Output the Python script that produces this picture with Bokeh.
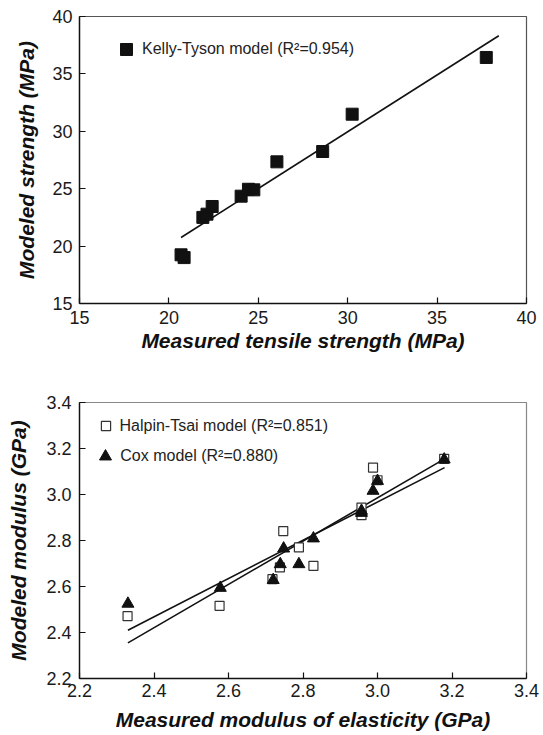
from bokeh.plotting import figure
from bokeh.models import Range1d, FixedTicker, NumeralTickFormatter, Legend, LegendItem
from bokeh.layouts import column
from bokeh.embed import file_html
from bokeh.resources import INLINE

# ---------------- data: top chart ----------------
kt_measured = [20.68, 20.85, 21.90, 22.13, 22.42, 24.04, 24.45, 24.75, 26.04, 28.60, 30.25, 37.75]
kt_modeled = [19.24, 19.00, 22.50, 22.78, 23.45, 24.35, 24.95, 24.90, 27.34, 28.24, 31.49, 36.43]
kt_fit_x = [20.68, 38.45]
kt_fit_y = [20.75, 38.32]
top_ticks = [15, 20, 25, 30, 35, 40]
kt_label = "Kelly-Tyson model (R²=0.954)"

# ---------------- data: bottom chart ----------------
ht_measured = [2.329, 2.576, 2.718, 2.738, 2.747, 2.789, 2.828, 2.957, 2.957, 2.988, 3.000, 3.179]
ht_modeled = [2.471, 2.516, 2.632, 2.683, 2.841, 2.770, 2.690, 2.910, 2.943, 3.117, 3.062, 3.155]
cox_measured = [2.330, 2.578, 2.720, 2.739, 2.748, 2.789, 2.828, 2.957, 2.957, 2.988, 3.000, 3.179]
cox_modeled = [2.525, 2.594, 2.628, 2.697, 2.765, 2.697, 2.809, 2.929, 2.920, 3.016, 3.059, 3.152]
fit_a_x = [2.33, 3.18]
fit_a_y = [2.410, 3.117]
fit_b_x = [2.33, 3.18]
fit_b_y = [2.355, 3.155]
bot_ticks = [2.2, 2.4, 2.6, 2.8, 3.0, 3.2, 3.4]
ht_label = "Halpin-Tsai model (R²=0.851)"
cox_label = "Cox model (R²=0.880)"

FONT = "Liberation Sans"


def style(p, ticks, xlabel, ylabel, fmt=None, xs=(7, 2), ys=(7, 11)):
    p.grid.visible = False
    p.background_fill_color = "white"
    p.border_fill_color = "white"
    for ax in (p.xaxis[0], p.yaxis[0]):
        ax.ticker = FixedTicker(ticks=ticks)
        if fmt is not None:
            ax.formatter = NumeralTickFormatter(format=fmt)
        ax.minor_tick_line_color = None
        ax.major_tick_in = 6
        ax.major_tick_out = 0
        ax.major_tick_line_color = "#111111"
        ax.major_tick_line_width = 1.2
        ax.axis_line_color = "#111111"
        ax.axis_line_width = 1.4
        ax.major_label_text_font = FONT
        ax.major_label_text_font_size = "18px"
        ax.major_label_text_color = "#1a1a1a"
        ax.axis_label_text_font = FONT
        ax.axis_label_text_font_size = "21px"
        ax.axis_label_text_font_style = "bold italic"
        ax.axis_label_text_color = "#111111"
    p.xaxis.axis_label = xlabel
    p.yaxis.axis_label = ylabel
    p.xaxis.major_label_standoff = xs[0]
    p.xaxis.axis_label_standoff = xs[1]
    p.yaxis.major_label_standoff = ys[0]
    p.yaxis.axis_label_standoff = ys[1]


# ---------------- top chart ----------------
p1 = figure(width=543, height=360, x_range=Range1d(15, 40), y_range=Range1d(15, 40),
            output_backend="svg", toolbar_location=None, tools="",
            min_border_left=72, min_border_right=13, min_border_top=16, min_border_bottom=57)
style(p1, top_ticks, "Measured tensile strength (MPa)", "Modeled strength (MPa)",
      xs=(7, 2), ys=(7, 11))
p1.outline_line_color = "#555555"
p1.outline_line_width = 1.2

p1.line(kt_fit_x, kt_fit_y, line_color="#111111", line_width=1.6)
r_kt = p1.scatter(kt_measured, kt_modeled, marker="square", size=12,
                  fill_color="#111111", line_color="#111111")

leg1 = Legend(items=[LegendItem(label=kt_label, renderers=[r_kt])],
              location=(32, 239), glyph_width=30, glyph_height=30, label_standoff=1,
              padding=0, margin=0, border_line_alpha=0, background_fill_alpha=0,
              label_text_font=FONT, label_text_font_size="16px", label_text_color="#222222")
p1.add_layout(leg1)

# ---------------- bottom chart ----------------
p2 = figure(width=543, height=375, x_range=Range1d(2.2, 3.4), y_range=Range1d(2.2, 3.4),
            output_backend="svg", toolbar_location=None, tools="",
            min_border_left=79, min_border_right=17, min_border_top=42, min_border_bottom=57)
style(p2, bot_ticks, "Measured modulus of elasticity (GPa)", "Modeled modulus (GPa)",
      fmt="0.0", xs=(5, 8), ys=(8, 13))
p2.outline_line_color = "#888888"
p2.outline_line_width = 1.2

p2.line(fit_a_x, fit_a_y, line_color="#111111", line_width=1.6)
p2.line(fit_b_x, fit_b_y, line_color="#111111", line_width=1.6)
r_ht = p2.scatter(ht_measured, ht_modeled, marker="square", size=9,
                  fill_color="white", line_color="#333333", line_width=1.2)
r_cox = p2.scatter(cox_measured, cox_modeled, marker="triangle", size=12,
                   fill_color="#111111", line_color="#111111")

leg_ht = Legend(items=[LegendItem(label=ht_label, renderers=[r_ht])],
                location=(14.5, 241), glyph_width=23, glyph_height=23, label_standoff=3,
                padding=0, margin=0, border_line_alpha=0, background_fill_alpha=0,
                label_text_font=FONT, label_text_font_size="16px", label_text_color="#222222")
leg_cox = Legend(items=[LegendItem(label=cox_label, renderers=[r_cox])],
                 location=(11.3, 207), glyph_width=30, glyph_height=30, label_standoff=0,
                 padding=0, margin=0, border_line_alpha=0, background_fill_alpha=0,
                 label_text_font=FONT, label_text_font_size="16px", label_text_color="#222222")
p2.add_layout(leg_ht)
p2.add_layout(leg_cox)

layout = column(p1, p2, spacing=0)
open("out.html", "w").write(file_html(layout, INLINE))
